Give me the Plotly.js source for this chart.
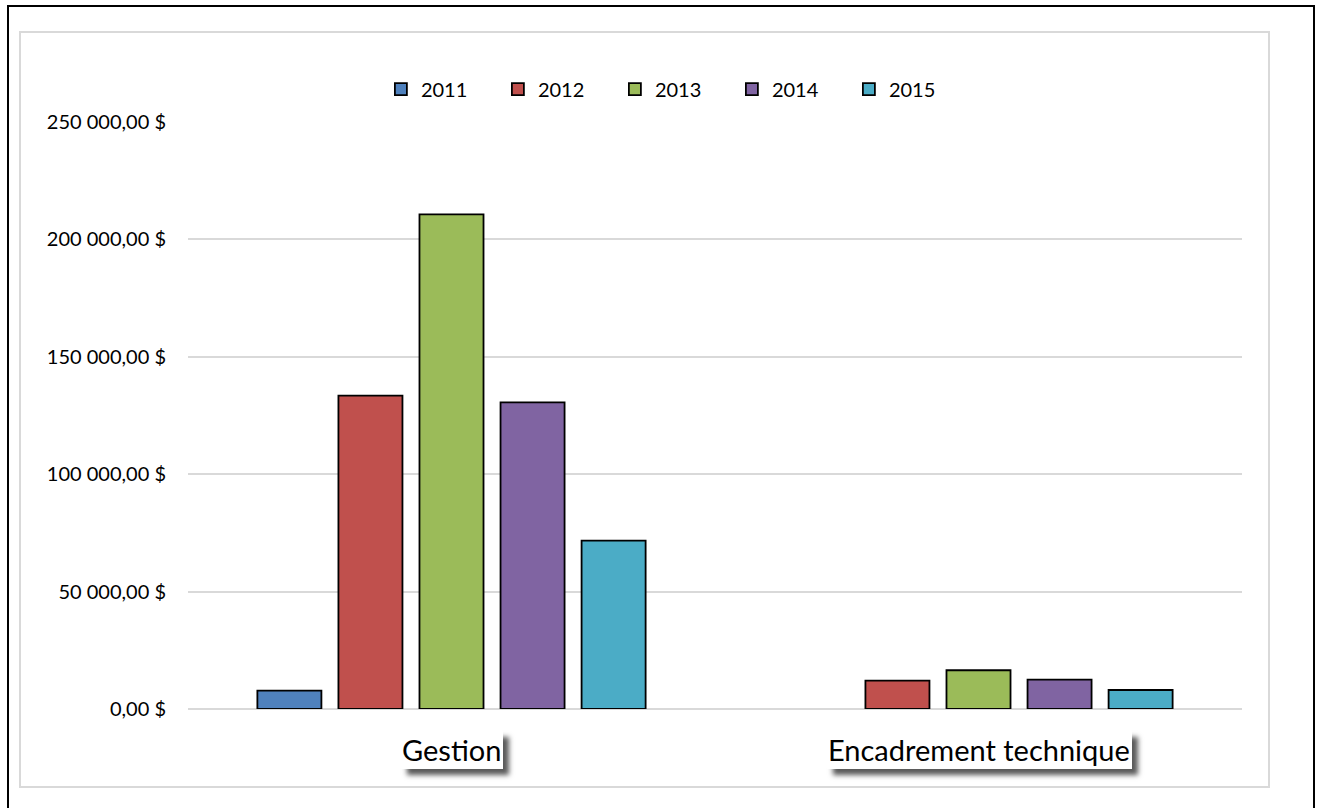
<!DOCTYPE html>
<html>
<head>
<meta charset="utf-8">
<script src="https://cdn.plot.ly/plotly-3.0.1.min.js"></script>
<style>
  html, body { margin: 0; padding: 0; background: #ffffff; overflow: hidden; }
  #chart { position: absolute; left: 0; top: 0; width: 1317px; height: 808px; z-index: 1; }
  .frame { position: absolute; box-sizing: border-box; pointer-events: none; z-index: 2; }
  #outer { left: 7px; top: 5px; width: 1308px; height: 900px; border: 2px solid #000; }
  #inner { left: 19px; top: 31px; width: 1251px; height: 757px; border: 2px solid #d9d9d9; }
  .shadowbox { position: absolute; background: #ffffff; z-index: 0;
               box-shadow: 6px 6px 5px rgba(0,0,0,0.65); }
</style>
</head>
<body>
<div id="chart"></div>
<div id="outer" class="frame"></div>
<div id="inner" class="frame"></div>
<script>
// ---- data ----
const categories = ["Gestion", "Encadrement technique"];
const years = ["2011", "2012", "2013", "2014", "2015"];
const values2011 = [7800, null];
const values2012 = [133500, 12100];
const values2013 = [210700, 16500];
const values2014 = [130600, 12500];
const values2015 = [71700, 8100];
const yTickValues = [0, 50000, 100000, 150000, 200000, 250000];
const yTickLabels = ["0,00 $", "50 000,00 $", "100 000,00 $", "150 000,00 $", "200 000,00 $", "250 000,00 $"];

const seriesValues = [values2011, values2012, values2013, values2014, values2015];
const colors = ["#4F81BD", "#C0504D", "#9BBB59", "#8064A2", "#4BACC6"];

const FONT = "Lato, 'Open Sans', sans-serif";

const traces = years.map((yr, i) => ({
  type: "bar",
  name: yr,
  x: categories,
  y: seriesValues[i],
  marker: { color: colors[i], line: { color: "#000000", width: 1.8 } },
  hoverinfo: "x+y+name"
}));

const annotations = categories.map(cat => ({
  x: cat, xref: "x", y: -0.069, yref: "paper", yanchor: "middle",
  text: cat, showarrow: false,
  font: { family: FONT, size: 29, color: "#000000" },
  bgcolor: "#ffffff", borderpad: 1
}));

const layout = {
  width: 1317, height: 808,
  margin: { l: 188, r: 75, t: 122, b: 99, pad: 0 },
  paper_bgcolor: "rgba(0,0,0,0)",
  plot_bgcolor: "rgba(0,0,0,0)",
  font: { family: FONT, size: 20, color: "#000000" },
  barmode: "group",
  bargap: 0.231,
  bargroupgap: 0.21,
  showlegend: true,
  legend: {
    orientation: "h",
    x: 0.183, xanchor: "left",
    y: 1.056, yanchor: "middle",
    font: { family: FONT, size: 20, color: "#000000" },
    entrywidth: 72,
    entrywidthmode: "pixels",
    traceorder: "normal",
    bgcolor: "rgba(0,0,0,0)"
  },
  xaxis: {
    type: "category",
    showticklabels: false,
    showgrid: false,
    zeroline: false,
    showline: false,
    ticks: ""
  },
  yaxis: {
    range: [0, 250000],
    tickmode: "array",
    tickvals: yTickValues,
    ticktext: yTickLabels,
    showgrid: true,
    gridcolor: "#d9d9d9",
    gridwidth: 2,
    zeroline: true,
    zerolinecolor: "#d9d9d9",
    zerolinewidth: 2,
    showline: false,
    ticks: "outside",
    ticklen: 17,
    tickcolor: "rgba(0,0,0,0)",
    tickfont: { family: FONT, size: 20, color: "#000000" }
  },
  shapes: [
    { type: "rect", xref: "paper", x0: 0, x1: 1.003, yref: "y", ysizemode: "pixel", yanchor: 0,
      y0: -1, y1: -10, fillcolor: "rgba(0,0,0,0.035)", line: { width: 0 }, layer: "below" },
    { type: "rect", xref: "paper", x0: 0, x1: 1.0, yref: "y", ysizemode: "pixel", yanchor: 0,
      y0: -1, y1: -6, fillcolor: "rgba(0,0,0,0.05)", line: { width: 0 }, layer: "below" }
  ],
  annotations: annotations
};

Plotly.newPlot("chart", traces, layout, { displayModeBar: false, staticPlot: true }).then(gd => {
  gd.querySelectorAll("g.annotation rect.bg").forEach(r => {
    const b = r.getBoundingClientRect();
    const d = document.createElement("div");
    d.className = "shadowbox";
    d.style.left = b.left + "px";
    d.style.top = b.top + "px";
    d.style.width = b.width + "px";
    d.style.height = b.height + "px";
    document.body.appendChild(d);
  });
});
</script>
</body>
</html>
